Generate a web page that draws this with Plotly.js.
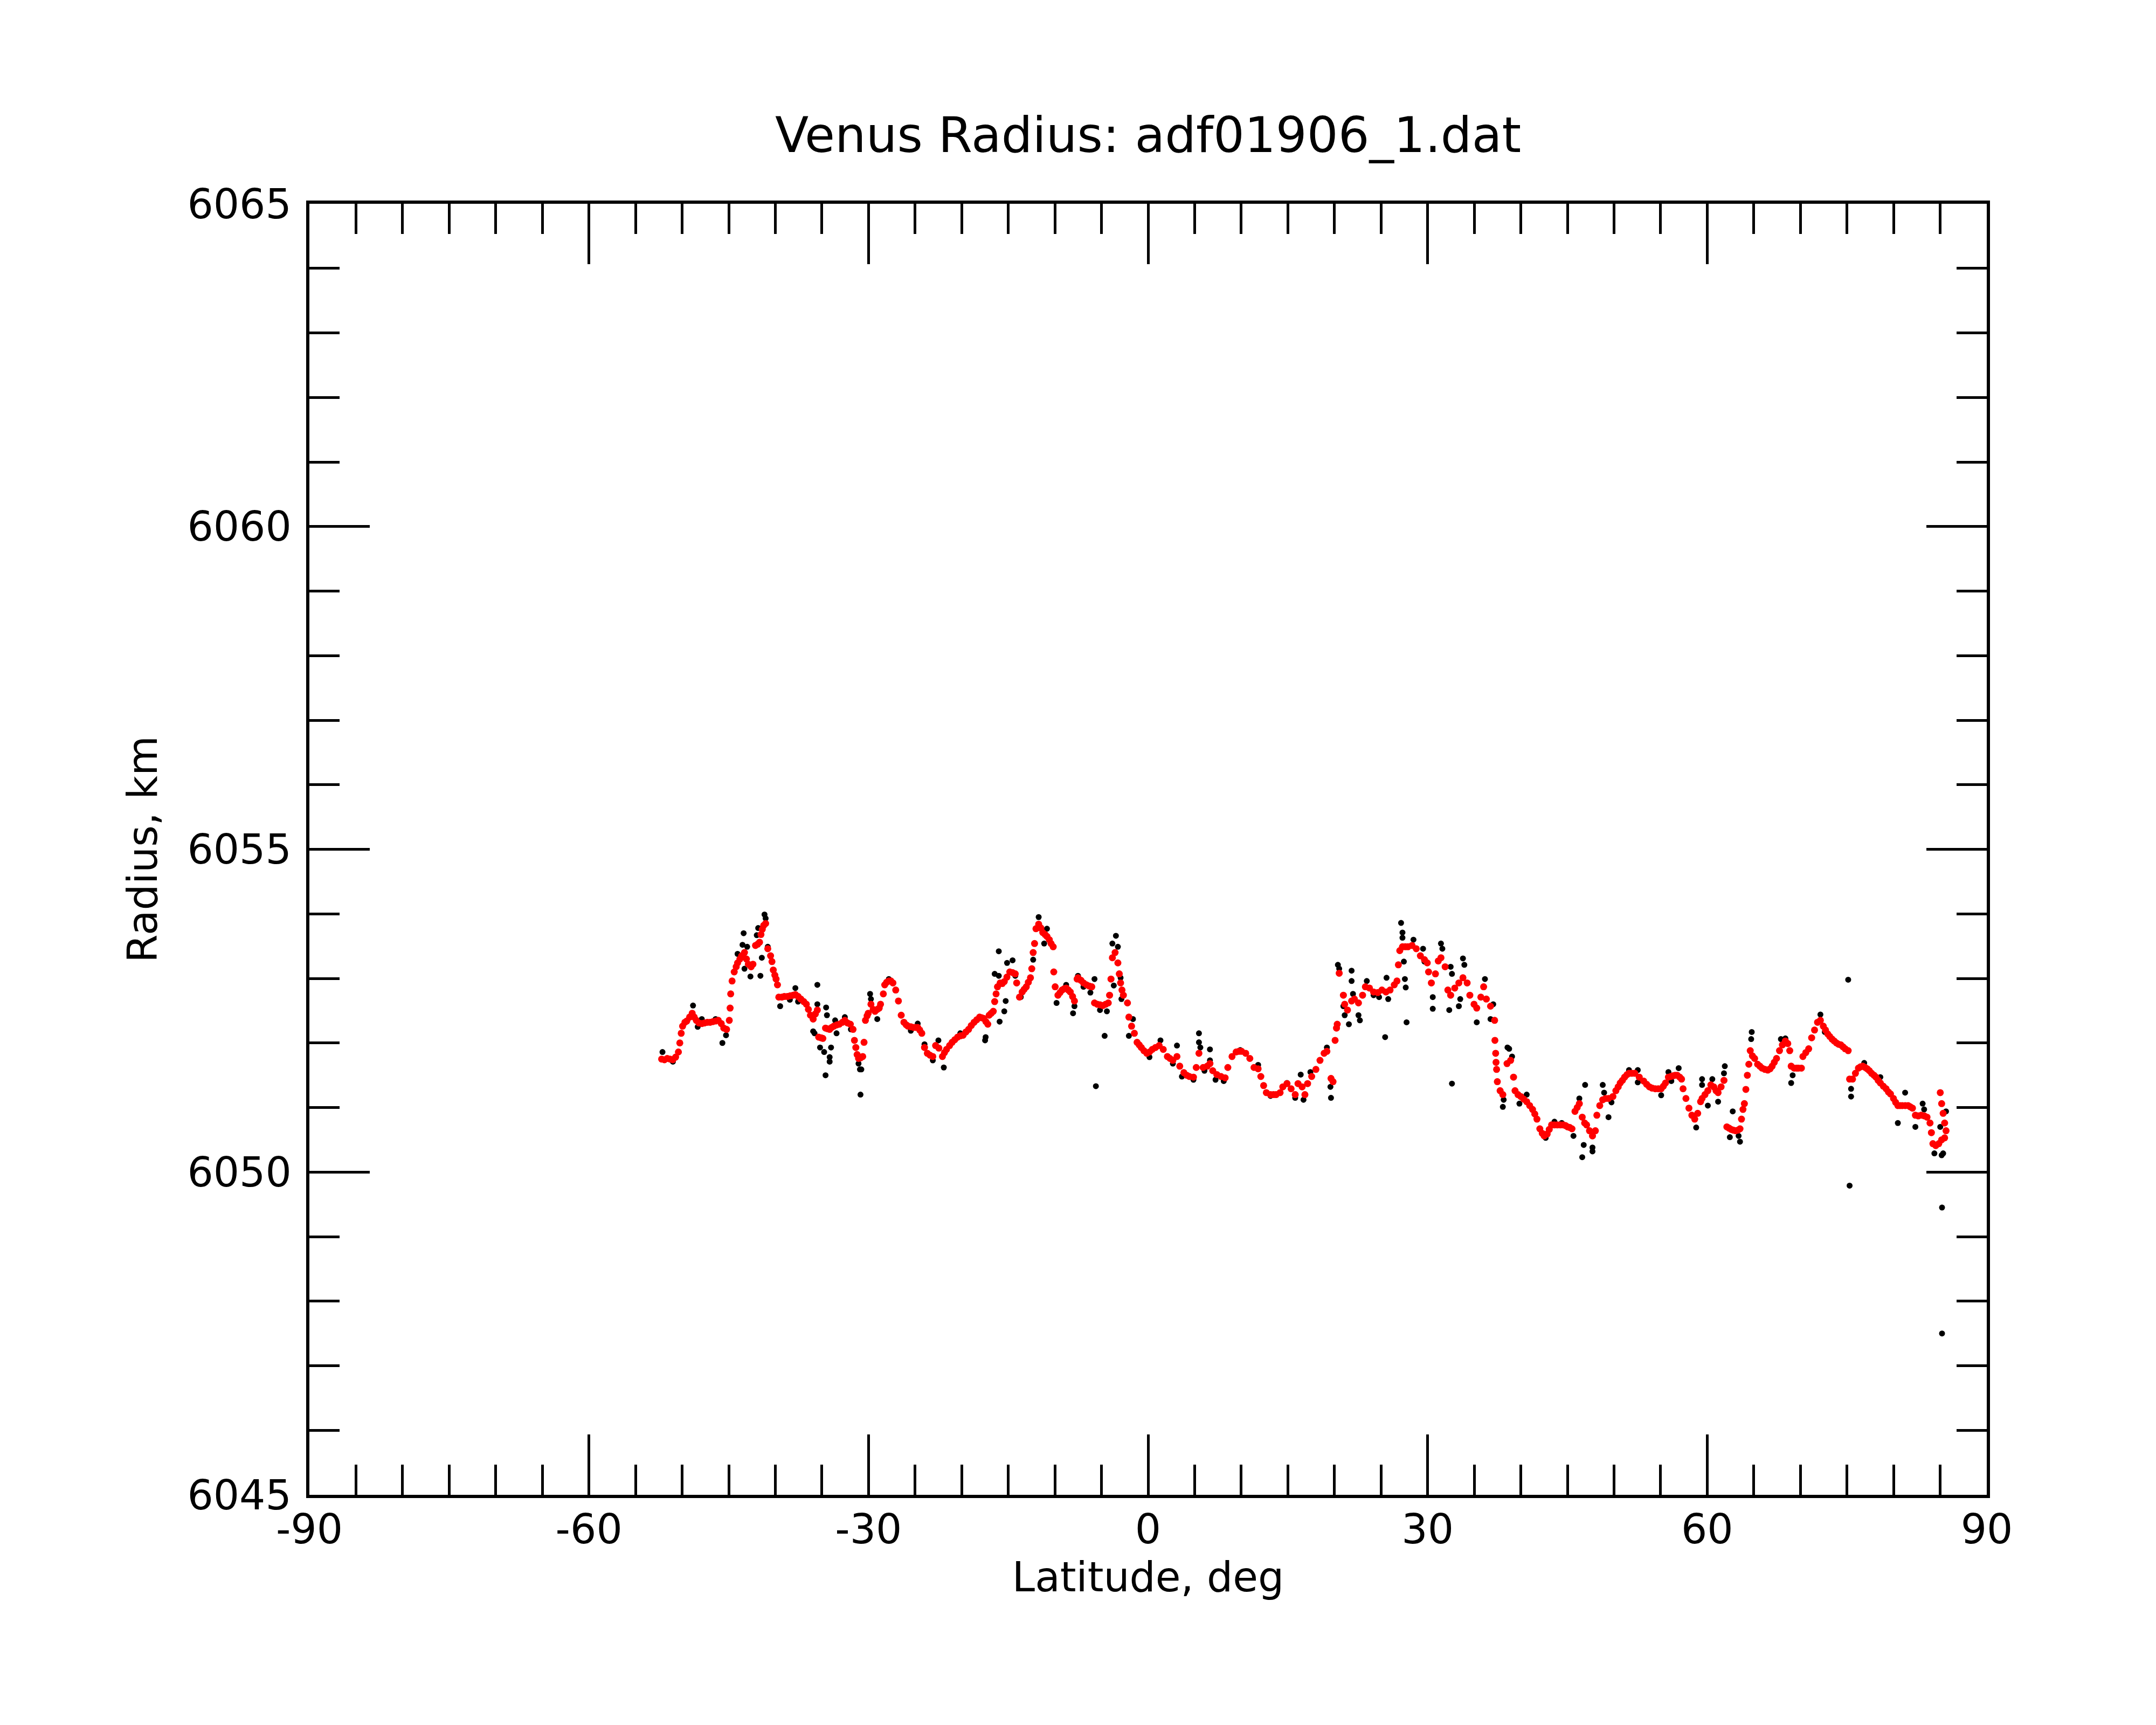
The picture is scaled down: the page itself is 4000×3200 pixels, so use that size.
<!DOCTYPE html>
<html>
<head>
<meta charset="utf-8">
<script src="https://cdn.plot.ly/plotly-3.0.1.min.js"></script>
<style>html,body{margin:0;padding:0;background:#fff;}#chart{width:4000px;height:3200px;}</style>
</head>
<body>
<div id="chart"></div>
<script>
// Smoothed radius profile (red)
const redLat = [-52.2,-51.9,-51.6,-51.3,-51.0,-50.7,-50.4,-50.25,-50.1,-49.95,-49.7,-49.5,-49.2,-48.92,-48.7,-48.48,-48.2,-47.89,-47.6,-47.3,-47.0,-46.7,-46.4,-46.12,-45.8,-45.53,-45.23,-44.94,-44.85,-44.79,-44.64,-44.41,-44.2,-44.05,-43.8,-43.61,-43.31,-43.1,-42.9,-42.6,-42.4,-42.13,-41.9,-41.69,-41.54,-41.4,-41.25,-41.04,-40.81,-40.51,-40.36,-40.22,-40.05,-39.92,-39.77,-39.63,-39.3,-39.03,-38.7,-38.4,-38.1,-37.85,-37.55,-37.26,-36.95,-36.67,-36.45,-36.23,-35.94,-35.7,-35.49,-35.35,-35.1,-34.9,-34.61,-34.4,-34.17,-33.95,-33.72,-33.4,-33.13,-32.8,-32.54,-32.25,-31.95,-31.66,-31.51,-31.36,-31.22,-31.07,-30.85,-30.62,-30.48,-30.33,-30.15,-30.03,-29.74,-29.5,-29.3,-29.05,-28.85,-28.71,-28.41,-28.26,-28.05,-27.82,-27.6,-27.38,-27.08,-26.79,-26.49,-26.2,-25.95,-25.76,-25.45,-25.17,-24.95,-24.72,-24.5,-24.28,-23.99,-23.69,-23.4,-23.1,-22.8,-22.45,-22.07,-21.85,-21.63,-21.3,-21.03,-20.74,-20.44,-20.15,-19.85,-19.55,-19.26,-18.97,-18.67,-18.38,-18.08,-17.85,-17.64,-17.4,-17.2,-17.05,-16.83,-16.61,-16.46,-16.31,-16.16,-15.87,-15.65,-15.43,-15.15,-14.84,-14.55,-14.25,-14.1,-13.8,-13.51,-13.3,-13.07,-12.85,-12.62,-12.48,-12.33,-12.18,-12.03,-11.74,-11.5,-11.3,-11.05,-10.85,-10.6,-10.41,-10.18,-10.12,-9.97,-9.67,-9.45,-9.23,-9.0,-8.79,-8.55,-8.35,-8.1,-7.9,-7.61,-7.52,-7.2,-6.93,-6.6,-6.3,-6.04,-5.75,-5.45,-5.15,-4.85,-4.55,-4.27,-4.13,-3.98,-3.83,-3.54,-3.24,-3.09,-2.95,-2.8,-2.65,-2.21,-2.06,-1.77,-1.47,-1.18,-0.95,-0.73,-0.45,-0.14,0.15,0.45,0.8,1.19,1.63,2.07,2.35,2.66,3.1,3.4,3.84,4.15,4.43,4.87,5.17,5.46,5.91,6.35,6.64,6.94,7.38,7.83,8.27,8.56,9.01,9.45,9.75,10.04,10.48,10.92,11.37,11.81,12.1,12.4,12.69,13.14,13.45,13.73,14.17,14.46,14.91,15.35,15.79,16.09,16.53,16.83,17.12,17.56,18.01,18.45,18.89,19.19,19.63,19.85,20.07,20.22,20.3,20.51,20.96,21.1,21.4,21.84,22.14,22.58,23.02,23.32,23.76,24.2,24.65,25.09,25.53,25.97,26.42,26.71,26.86,27.01,27.3,27.6,27.89,28.33,28.78,29.22,29.66,29.96,30.1,30.4,30.84,31.14,31.43,31.88,32.17,32.47,32.91,33.35,33.79,34.24,34.53,34.98,35.27,35.71,36.01,36.3,36.75,37.19,37.22,37.3,37.34,37.4,37.48,37.78,38.07,38.52,38.91,39.22,39.38,39.7,40.0,40.3,40.63,40.95,41.26,41.5,41.73,42.04,42.3,42.51,42.83,43.05,43.3,43.6,43.92,44.25,44.55,44.8,45.02,45.25,45.49,45.81,46.05,46.28,46.59,46.85,47.06,47.37,47.69,48.0,48.16,48.47,48.79,49.1,49.41,49.88,50.2,50.45,50.67,50.9,51.14,51.4,51.61,51.9,52.23,52.71,53.18,53.5,53.8,54.1,54.43,54.75,55.06,55.3,55.53,55.84,56.1,56.31,56.55,56.78,57.05,57.25,57.41,57.72,58.04,58.35,58.66,58.98,59.29,59.45,59.76,60.07,60.39,60.7,60.95,61.17,61.49,61.8,62.11,62.35,62.58,62.8,63.05,63.3,63.52,63.68,63.84,63.99,64.15,64.31,64.47,64.62,64.85,65.09,65.41,65.65,65.88,66.2,66.5,66.75,66.97,67.2,67.44,67.76,68.07,68.39,68.65,68.86,69.01,69.33,69.6,69.8,70.11,70.27,70.58,70.89,71.21,71.52,71.84,72.15,72.46,72.7,72.93,73.15,73.4,73.63,73.87,74.1,74.34,74.57,74.81,75.13,75.28,75.6,75.91,76.23,76.45,76.7,76.95,77.17,77.4,77.64,77.9,78.11,78.35,78.58,78.9,79.2,79.45,79.67,79.99,80.22,80.46,80.7,80.93,81.25,81.56,81.8,82.03,82.34,82.65,82.97,83.3,83.59,83.91,84.06,84.22,84.53,84.85,85.16,85.48,85.01,85.16,85.32,85.48,85.63];
const redRadius = [6051.75,6051.74,6051.76,6051.75,6051.74,6051.78,6051.86,6052.00,6052.15,6052.26,6052.32,6052.34,6052.40,6052.46,6052.40,6052.35,6052.31,6052.30,6052.31,6052.32,6052.32,6052.33,6052.34,6052.35,6052.30,6052.23,6052.21,6052.35,6052.54,6052.76,6052.96,6053.10,6053.18,6053.24,6053.30,6053.35,6053.40,6053.30,6053.22,6053.18,6053.22,6053.51,6053.53,6053.56,6053.68,6053.76,6053.82,6053.85,6053.46,6053.35,6053.26,6053.13,6053.05,6052.99,6052.90,6052.71,6052.71,6052.72,6052.72,6052.73,6052.74,6052.75,6052.72,6052.68,6052.64,6052.60,6052.52,6052.43,6052.37,6052.45,6052.51,6052.09,6052.08,6052.07,6052.23,6052.22,6052.21,6052.24,6052.26,6052.28,6052.29,6052.32,6052.35,6052.31,6052.29,6052.21,6052.04,6051.93,6051.82,6051.76,6051.77,6051.79,6052.01,6052.35,6052.42,6052.46,6052.60,6052.52,6052.49,6052.52,6052.54,6052.60,6052.76,6052.90,6052.94,6052.96,6052.96,6052.93,6052.82,6052.65,6052.43,6052.32,6052.28,6052.26,6052.25,6052.24,6052.24,6052.24,6052.20,6052.15,6051.93,6051.84,6051.81,6051.79,6051.96,6051.92,6051.79,6051.85,6051.90,6051.96,6052.01,6052.05,6052.09,6052.11,6052.12,6052.17,6052.21,6052.27,6052.32,6052.36,6052.40,6052.39,6052.38,6052.33,6052.29,6052.43,6052.46,6052.49,6052.64,6052.76,6052.87,6052.93,6052.92,6052.95,6053.02,6053.10,6053.09,6053.07,6052.93,6052.71,6052.79,6052.83,6052.87,6052.94,6053.01,6053.15,6053.40,6053.54,6053.77,6053.84,6053.78,6053.71,6053.68,6053.65,6053.60,6053.54,6053.49,6053.10,6052.87,6052.74,6052.78,6052.82,6052.84,6052.85,6052.82,6052.79,6052.72,6052.65,6052.99,6053.01,6052.97,6052.93,6052.90,6052.88,6052.87,6052.62,6052.60,6052.59,6052.58,6052.60,6052.62,6052.74,6052.99,6053.32,6053.40,6053.24,6053.07,6052.93,6052.82,6052.74,6052.62,6052.40,6052.26,6052.15,6052.01,6051.97,6051.93,6051.88,6051.84,6051.86,6051.90,6051.93,6051.96,6051.90,6051.79,6051.76,6051.73,6051.79,6051.64,6051.54,6051.50,6051.48,6051.47,6051.62,6051.84,6051.62,6051.64,6051.68,6051.57,6051.51,6051.48,6051.46,6051.62,6051.79,6051.86,6051.87,6051.87,6051.84,6051.76,6051.62,6051.60,6051.48,6051.34,6051.23,6051.20,6051.20,6051.20,6051.23,6051.32,6051.37,6051.29,6051.20,6051.37,6051.32,6051.20,6051.37,6051.48,6051.59,6051.73,6051.84,6051.87,6051.45,6051.40,6052.04,6052.23,6052.29,6053.08,6052.74,6052.60,6052.51,6052.65,6052.68,6052.62,6052.74,6052.87,6052.85,6052.79,6052.78,6052.82,6052.79,6052.82,6052.90,6052.96,6053.21,6053.43,6053.49,6053.49,6053.49,6053.51,6053.46,6053.35,6053.29,6053.24,6053.10,6052.93,6053.07,6053.27,6053.32,6053.18,6052.82,6052.74,6052.85,6052.93,6053.01,6052.93,6052.74,6052.60,6052.54,6052.71,6052.87,6052.68,6052.57,6052.35,6052.04,6051.84,6051.70,6051.59,6051.40,6051.26,6051.20,6051.68,6051.73,6051.47,6051.26,6051.20,6051.17,6051.13,6051.09,6051.03,6050.97,6050.90,6050.82,6050.67,6050.60,6050.56,6050.59,6050.66,6050.73,6050.73,6050.73,6050.73,6050.73,6050.72,6050.70,6050.69,6050.67,6050.94,6051.00,6051.06,6050.85,6050.76,6050.73,6050.64,6050.56,6050.64,6050.88,6051.03,6051.12,6051.14,6051.14,6051.17,6051.26,6051.32,6051.38,6051.42,6051.47,6051.51,6051.53,6051.53,6051.53,6051.47,6051.41,6051.36,6051.32,6051.30,6051.29,6051.29,6051.29,6051.33,6051.38,6051.47,6051.48,6051.49,6051.50,6051.50,6051.47,6051.44,6051.29,6051.14,6050.99,6050.88,6050.82,6050.91,6051.09,6051.14,6051.20,6051.26,6051.35,6051.32,6051.26,6051.23,6051.32,6051.42,6050.70,6050.68,6050.66,6050.65,6050.64,6050.65,6050.67,6050.82,6050.97,6051.06,6051.28,6051.50,6051.67,6051.88,6051.80,6051.76,6051.67,6051.64,6051.61,6051.59,6051.58,6051.60,6051.64,6051.70,6051.76,6051.88,6051.97,6052.03,6051.99,6051.88,6051.64,6051.61,6051.61,6051.61,6051.61,6051.79,6051.85,6051.91,6052.08,6052.20,6052.32,6052.35,6052.26,6052.20,6052.14,6052.10,6052.06,6052.03,6052.00,6051.98,6051.97,6051.94,6051.91,6051.88,6051.44,6051.44,6051.53,6051.61,6051.63,6051.64,6051.62,6051.60,6051.57,6051.53,6051.50,6051.47,6051.42,6051.38,6051.33,6051.29,6051.24,6051.21,6051.14,6051.08,6051.03,6051.03,6051.03,6051.03,6051.03,6051.01,6050.99,6050.88,6050.87,6050.88,6050.87,6050.85,6050.76,6050.61,6050.44,6050.41,6050.44,6050.50,6050.53,6051.23,6051.06,6050.91,6050.76,6050.64];

// Raw radius measurements (black) that show around the smoothed profile
const blackLat = [-52.11,-50.99,-48.83,-48.33,-47.89,-46.41,-45.68,-45.29,-44.05,-43.4,-43.52,-43.31,-42.67,-43.02,-41.84,-41.99,-41.6,-41.45,-41.16,-41.04,-40.81,-39.48,-37.85,-38.44,-37.56,-35.49,-35.49,-35.94,-35.79,-34.55,-34.46,-34.61,-35.2,-34.76,-34.02,-34.17,-34.17,-33.58,-33.43,-32.54,-31.89,-31.07,-30.92,-30.77,-30.86,-29.83,-29.74,-29.06,-27.82,-25.46,-24.72,-23.99,-23.1,-22.5,-21.92,-20.15,-17.49,-17.43,-16.46,-16.02,-16.02,-15.43,-15.28,-15.93,-15.13,-14.54,-14.25,-13.66,-12.33,-11.74,-10.85,-11.15,-9.82,-8.79,-8.05,-7.9,-7.52,-6.93,-6.19,-5.75,-5.6,-5.16,-4.42,-4.66,-3.83,-3.45,-3.24,-3.68,-2.95,-2.86,-2.06,-1.62,0.15,1.33,2.66,3.1,3.63,4.87,5.46,5.46,5.61,6.64,6.64,6.05,7.24,8.12,9.89,11.81,13.14,14.91,15.79,16.38,16.68,17.42,19.19,19.57,19.63,20.37,20.51,21.84,21.84,20.96,21.1,21.55,21.99,22.58,22.73,23.47,24.2,24.79,25.44,25.59,25.77,27.15,27.3,27.3,27.45,27.56,27.65,27.74,28.48,29.51,29.66,30.55,30.55,31.43,31.58,32.47,32.32,32.61,33.35,33.5,33.79,33.94,32.61,35.27,36.15,37.04,36.75,38.57,38.07,38.16,38.75,39.06,39.85,40.63,42.67,43.61,44.39,45.65,46.28,46.9,46.75,46.59,47.69,47.69,48.79,48.94,49.41,49.73,51.61,52.55,52.55,55.06,55.84,56.94,56.15,58.82,59.45,59.45,60.55,60.07,61.17,61.89,61.8,62.43,62.74,63.52,63.37,64.78,64.72,69.01,69.17,67.91,68.39,72.15,72.62,75.13,75.44,75.44,76.85,78.58,80.46,81.24,82.34,83.12,83.28,84.38,85.16,85.32,85.01,85.63,75.28,85.2,85.2];
const blackRadius = [6051.86,6051.71,6052.58,6052.25,6052.37,6052.37,6052.00,6052.12,6053.38,6053.70,6053.52,6053.15,6053.03,6053.49,6053.78,6053.67,6053.04,6053.32,6053.99,6053.93,6053.49,6052.57,6052.85,6052.67,6052.64,6052.90,6052.60,6052.18,6052.15,6052.55,6052.43,6051.50,6051.93,6051.86,6051.93,6051.78,6051.71,6052.35,6052.15,6052.40,6052.21,6051.68,6051.59,6051.59,6051.20,6052.76,6052.68,6052.37,6052.99,6052.19,6052.30,6051.98,6051.73,6052.04,6051.62,6052.15,6052.04,6052.09,6053.07,6053.04,6053.42,6052.49,6052.65,6052.33,6053.24,6053.28,6053.04,6052.71,6053.29,6053.95,6053.77,6053.54,6052.62,6052.90,6052.46,6052.57,6053.04,6052.87,6052.78,6052.99,6051.33,6052.51,6052.49,6052.11,6053.54,6053.66,6053.49,6052.89,6053.01,6052.68,6052.11,6052.37,6051.78,6052.04,6051.68,6051.96,6051.48,6051.43,6052.15,6052.01,6051.93,6051.90,6051.73,6051.57,6051.43,6051.41,6051.89,6051.66,6051.18,6051.38,6051.15,6051.51,6051.12,6051.55,6051.93,6051.32,6051.15,6053.21,6053.15,6053.12,6052.96,6052.57,6052.43,6052.29,6052.76,6052.43,6052.35,6052.96,6052.74,6052.71,6052.09,6053.01,6052.68,6053.86,6053.71,6053.63,6053.26,6052.99,6052.86,6052.32,6053.60,6053.46,6053.26,6052.71,6052.53,6053.54,6053.46,6053.18,6052.51,6053.07,6052.57,6052.68,6053.31,6053.21,6051.37,6052.32,6052.99,6052.60,6052.37,6051.93,6051.01,6051.12,6051.91,6051.79,6051.06,6051.20,6050.53,6050.78,6050.76,6050.56,6051.14,6051.35,6050.42,6050.23,6050.38,6050.32,6051.35,6051.23,6050.85,6051.08,6051.58,6051.58,6051.39,6051.19,6051.55,6051.61,6051.41,6050.69,6051.44,6051.35,6051.44,6051.03,6051.09,6051.64,6051.53,6050.54,6050.94,6050.47,6050.56,6052.17,6052.06,6051.38,6051.50,6052.06,6052.07,6052.44,6052.17,6052.98,6051.29,6051.17,6051.69,6051.47,6050.76,6051.23,6050.70,6051.06,6050.97,6050.29,6050.26,6050.29,6050.70,6050.94,6049.79,6049.45,6047.50];

const xTicks = [-90,-60,-30,0,30,60,90];
const yTicks = [6045,6050,6055,6060,6065];

const traces = [
  {type:'scatter', mode:'markers', x: blackLat, y: blackRadius,
   marker:{color:'#000000', size:11}, hoverinfo:'skip', showlegend:false},
  {type:'scatter', mode:'markers', x: redLat, y: redRadius,
   marker:{color:'#ff0000', size:13}, hoverinfo:'skip', showlegend:false}
];

const axisFont = {family:'DejaVu Sans', size:76, color:'#000'};
const layout = {
  width:4000, height:3200,
  paper_bgcolor:'#ffffff', plot_bgcolor:'#ffffff',
  margin:{l:574, r:314, t:378, b:427, pad:0},
  showlegend:false,
  title:{text:'Venus Radius: adf01906_1.dat', font:{family:'DejaVu Sans', size:91, color:'#000'},
         x:0.5, xref:'paper', xanchor:'center', y:1-250/3200, yref:'container', yanchor:'middle'},
  xaxis:{range:[-90,90], tickmode:'array', tickvals:xTicks, ticktext:xTicks.map(String),
         ticks:'inside', ticklen:112, tickwidth:5, tickcolor:'#000',
         minor:{dtick:5, tick0:0, ticks:'inside', ticklen:56, tickwidth:5, tickcolor:'#000', showgrid:false},
         showline:true, linewidth:6, linecolor:'#000', mirror:'allticks',
         showgrid:false, zeroline:false, tickfont:axisFont, ticklabelstandoff:-7,
         title:{text:'Latitude, deg', font:axisFont, standoff:0}},
  yaxis:{range:[6045,6065], tickmode:'array', tickvals:yTicks, ticktext:yTicks.map(String),
         ticks:'inside', ticklen:112, tickwidth:5, tickcolor:'#000',
         minor:{dtick:1, tick0:6045, ticks:'inside', ticklen:56, tickwidth:5, tickcolor:'#000', showgrid:false},
         showline:true, linewidth:6, linecolor:'#000', mirror:'allticks',
         showgrid:false, zeroline:false, tickfont:axisFont, ticklabelstandoff:12,
         title:{text:'Radius, km', font:axisFont, standoff:33}}
};

Plotly.newPlot('chart', traces, layout, {staticPlot:true, displayModeBar:false});
</script>
</body>
</html>
